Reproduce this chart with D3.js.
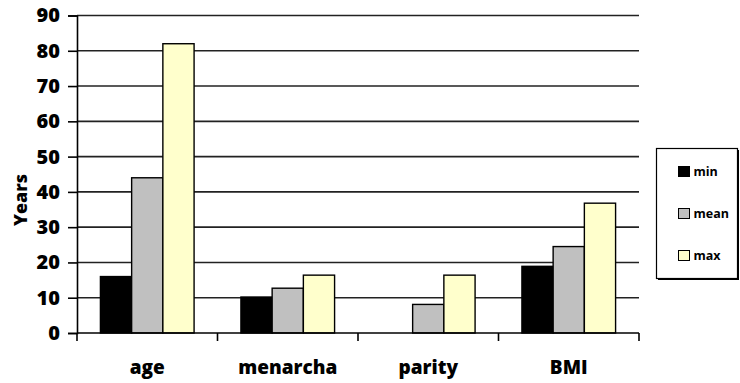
<!DOCTYPE html>
<html>
<head>
<meta charset="utf-8">
<script src="https://cdn.jsdelivr.net/npm/d3@7"></script>
<style>
  html, body { margin: 0; padding: 0; background: #fff; }
  svg { display: block; font-family: "Open Sans", Lato, sans-serif; font-weight: bold; }
</style>
</head>
<body>
<svg id="chart" width="740" height="383"></svg>
<script>
// Category names and series
const categories = ["age", "menarcha", "parity", "BMI"];
const seriesNames = ["min", "mean", "max"];
const minValues = [16, 10.2, 0, 18.9];
const meanValues = [44, 12.7, 8.1, 24.5];
const maxValues = [82, 16.4, 16.4, 36.8];
const yTicks = [0, 10, 20, 30, 40, 50, 60, 70, 80, 90];
const seriesColors = ["#000000", "#c0c0c0", "#ffffcc"];

const series = [minValues, meanValues, maxValues];

const svg = d3.select("#chart");
const plot = { left: 77, right: 639, top: 15.5, bottom: 333 };
const FONT = "'Open Sans', Lato, sans-serif";

const x0 = d3.scaleBand()
  .domain(categories)
  .range([plot.left, plot.right])
  .paddingInner(0)
  .paddingOuter(0);

// Group of three bars occupies 3 of 4.5 bar-widths of each category (gap 150%)
const groupWidth = x0.bandwidth() * 3 / 4.5;
const x1 = d3.scaleBand()
  .domain(seriesNames)
  .range([0, groupWidth]);

const y = d3.scaleLinear().domain([0, 90]).range([plot.bottom, plot.top]);

// Horizontal gridlines
svg.append("g")
  .selectAll("line")
  .data(yTicks.filter(t => t > 0))
  .join("line")
  .attr("x1", plot.left).attr("x2", plot.right)
  .attr("y1", d => y(d)).attr("y2", d => y(d))
  .attr("stroke", "#222").attr("stroke-width", 1.6);

// Bars
const groups = svg.append("g")
  .selectAll("g")
  .data(categories)
  .join("g")
  .attr("transform", d => `translate(${x0(d) + (x0.bandwidth() - groupWidth) / 2},0)`);

groups.selectAll("rect")
  .data((c, i) => seriesNames.map((s, j) => ({ s, j, v: series[j][i] })))
  .join("rect")
  .filter(d => d.v > 0)
  .attr("x", d => x1(d.s))
  .attr("width", x1.bandwidth())
  .attr("y", d => y(d.v))
  .attr("height", d => y(0) - y(d.v))
  .attr("fill", d => seriesColors[d.j])
  .attr("stroke", "#000").attr("stroke-width", 1.4);

// Y axis
const yAxis = svg.append("g")
  .attr("transform", `translate(${plot.left},0)`)
  .call(d3.axisLeft(y).tickValues(yTicks).tickSize(9).tickPadding(8));
yAxis.select(".domain").attr("stroke", "#000").attr("stroke-width", 1.6);
yAxis.selectAll(".tick line").attr("stroke", "#000").attr("stroke-width", 1.6);
yAxis.selectAll(".tick text")
  .attr("font-size", 20).attr("font-weight", 800).attr("fill", "#000")
  .attr("font-family", FONT);

// X axis: ticks between categories
const xAxis = svg.append("g")
  .attr("transform", `translate(0,${plot.bottom})`);
xAxis.append("line")
  .attr("x1", plot.left).attr("x2", plot.right)
  .attr("y1", 0).attr("y2", 0)
  .attr("stroke", "#000").attr("stroke-width", 1.6);
xAxis.selectAll("line.sep")
  .data(categories.map(c => x0(c)).concat([plot.right]))
  .join("line")
  .attr("class", "sep")
  .attr("x1", d => d).attr("x2", d => d)
  .attr("y1", 0).attr("y2", 8)
  .attr("stroke", "#000").attr("stroke-width", 1.6);
xAxis.selectAll("text")
  .data(categories)
  .join("text")
  .attr("x", d => x0(d) + x0.bandwidth() / 2)
  .attr("y", 41)
  .attr("text-anchor", "middle")
  .attr("font-size", 19)
  .attr("font-weight", 800)
  .attr("fill", "#000")
  .text(d => d);

// Y axis title
svg.append("text")
  .attr("transform", "translate(27,200) rotate(-90)")
  .attr("text-anchor", "middle")
  .attr("font-size", 18)
  .attr("font-weight", 800)
  .attr("fill", "#000")
  .text("Years");

// Legend
const legend = svg.append("g").attr("transform", "translate(656.5,148.5)");
legend.append("rect")
  .attr("x", 1.5).attr("y", 1.5).attr("width", 81).attr("height", 130)
  .attr("fill", "#000");
legend.append("rect")
  .attr("width", 81).attr("height", 130)
  .attr("fill", "#fff").attr("stroke", "#000").attr("stroke-width", 1.2);
const items = legend.selectAll("g.item")
  .data(seriesNames)
  .join("g")
  .attr("class", "item")
  .attr("transform", (d, i) => `translate(22,${18 + i * 42})`);
items.append("rect")
  .attr("width", 11).attr("height", 10)
  .attr("fill", (d, i) => seriesColors[i])
  .attr("stroke", "#000").attr("stroke-width", 1);
items.append("text")
  .attr("x", 15).attr("y", 9.5)
  .attr("font-size", 12.5)
  .attr("fill", "#000")
  .text(d => d);
</script>
</body>
</html>
